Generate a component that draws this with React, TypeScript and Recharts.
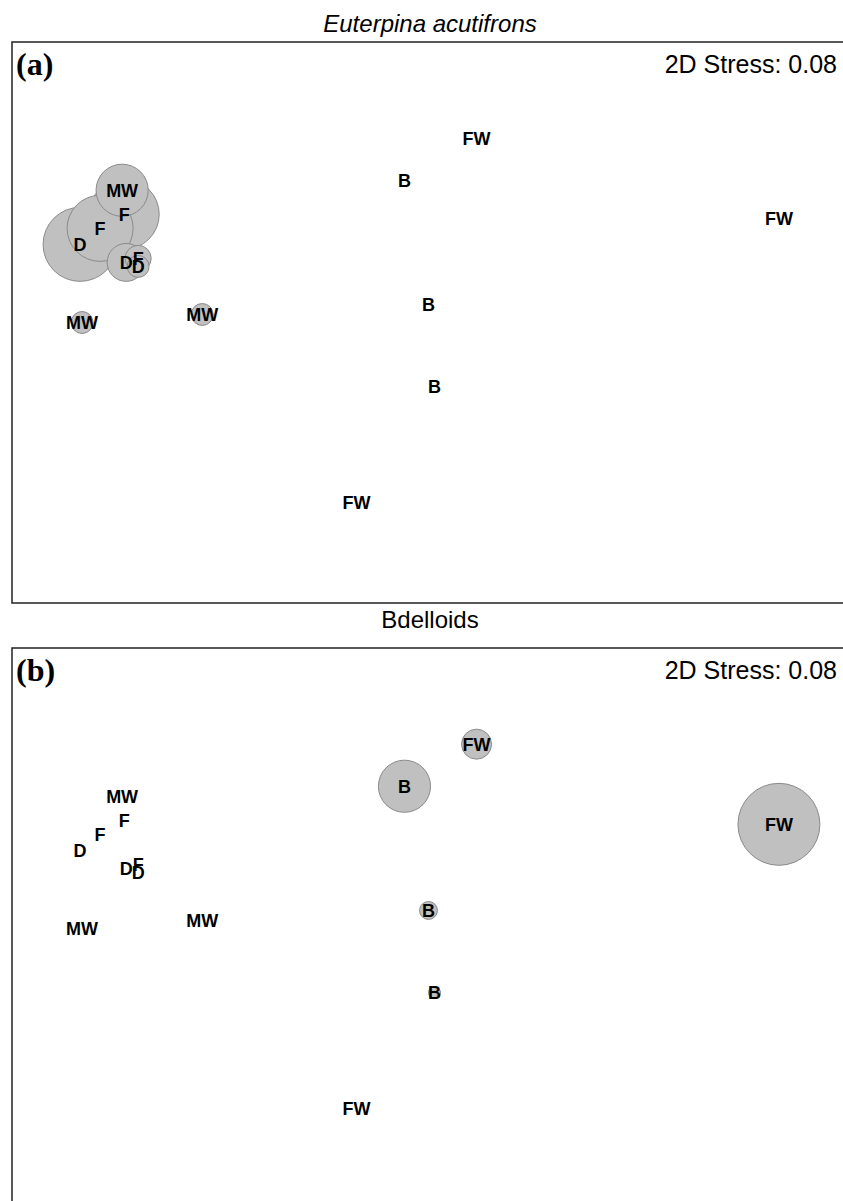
import {
  Customized,
  ReferenceArea,
  Scatter,
  ScatterChart,
  XAxis,
  YAxis,
  ZAxis,
} from "recharts";

// nMDS configuration shared by both panels (same samples, same ordination)
const sampleLabels = ["FW", "B", "FW", "B", "B", "FW", "MW", "MW", "MW", "F", "F", "D", "D", "F", "D"];
const mdsX = [0.32, -0.04, 1.83, 0.08, 0.11, -0.28, -1.65, -1.05, -1.45, -1.44, -1.56, -1.66, -1.43, -1.37, -1.37];
const mdsY = [0.92, 0.71, 0.52, 0.09, -0.32, -0.9, 0.0, 0.04, 0.66, 0.54, 0.47, 0.39, 0.3, 0.32, 0.28];

// bubble values (area proportional to abundance)
const euterpinaAbundance = [0, 0, 0, 0, 0, 0, 1.2, 1.2, 6.8, 12.3, 10.9, 13.7, 3.6, 1.7, 1.2];
const bdelloidAbundance = [2.25, 6.8, 16.8, 0.8, 0.36, 0, 0, 0, 0, 0, 0, 0, 0, 0, 0];

const stressText = "2D Stress: 0.08";

const X_DOMAIN: [number, number] = [-2, 2.2];
const Y_DOMAIN: [number, number] = [-1.4, 1.4];
const Z_MAX = 20;
const BUBBLE_AREA_MAX = Math.PI * 100 * Z_MAX;

const SANS = "'Liberation Sans', Arial, Helvetica, sans-serif";
const SERIF = "'Liberation Serif', 'Times New Roman', serif";

type Point = { label: string; x: number; y: number; z: number };

function buildPoints(abundance: number[]): Point[] {
  return sampleLabels.map((label, i) => ({
    label,
    x: mdsX[i],
    y: mdsY[i],
    z: abundance[i],
  }));
}

function Bubble(props: any) {
  const { cx, cy, size } = props;
  const r = Math.sqrt(Math.max(size ?? 0, 0) / Math.PI);
  if (!r || cx == null || cy == null) return <g />;
  return <circle cx={cx} cy={cy} r={r} fill="#c0c0c0" stroke="#8a8a8a" strokeWidth={1} />;
}

function SampleLabel(props: any) {
  const { cx, cy, payload } = props;
  if (cx == null || cy == null) return <g />;
  return (
    <text
      x={cx}
      y={cy}
      dy="0.36em"
      textAnchor="middle"
      fontFamily={SANS}
      fontWeight="bold"
      fontSize={18}
      fill="#000"
    >
      {payload.label}
    </text>
  );
}

type PanelProps = {
  title: string;
  italic?: boolean;
  tag: string;
  abundance: number[];
  height: number;
  top: number;
  titleBaseline: number;
};

function Panel({ title, italic, tag, abundance, height, top, titleBaseline }: PanelProps) {
  const points = buildPoints(abundance);
  const bubbles = points.filter((p) => p.z > 0).sort((a, b) => b.z - a.z);

  return (
    <ScatterChart
      width={875}
      height={height}
      margin={{ top, right: 22, bottom: Math.max(height - top - 561, 0), left: 12 }}
    >
      <XAxis type="number" dataKey="x" domain={X_DOMAIN} hide allowDataOverflow />
      <YAxis type="number" dataKey="y" domain={Y_DOMAIN} hide allowDataOverflow />
      <ZAxis type="number" dataKey="z" domain={[0, Z_MAX]} range={[0, BUBBLE_AREA_MAX]} />
      <ReferenceArea
        x1={X_DOMAIN[0]}
        x2={X_DOMAIN[1]}
        y1={Y_DOMAIN[0]}
        y2={Y_DOMAIN[1]}
        fill="none"
        fillOpacity={0}
        stroke="#222"
        strokeWidth={1.5}
      />
      <Scatter data={bubbles} shape={<Bubble />} isAnimationActive={false} legendType="none" />
      <Scatter data={points} shape={<SampleLabel />} isAnimationActive={false} legendType="none" />
      <Customized
        component={() => (
          <g>
            <text
              x={430}
              y={titleBaseline}
              textAnchor="middle"
              fontFamily={SANS}
              fontStyle={italic ? "italic" : "normal"}
              fontSize={24}
              fill="#000"
            >
              {title}
            </text>
            <text x={16} y={top + 33} fontFamily={SERIF} fontWeight="bold" fontSize={32} fill="#000">
              {tag}
            </text>
            <text x={837} y={top + 31} textAnchor="end" fontFamily={SANS} fontSize={25} fill="#000">
              {stressText}
            </text>
          </g>
        )}
      />
    </ScatterChart>
  );
}

export default function App() {
  return (
    <div style={{ width: 843, height: 1201, overflow: "hidden", background: "#fff" }}>
      <style>{"html,body{margin:0;padding:0;overflow:hidden;}"}</style>
      <Panel
        title="Euterpina acutifrons"
        italic
        tag="(a)"
        abundance={euterpinaAbundance}
        height={604}
        top={42}
        titleBaseline={32}
      />
      <Panel
        title="Bdelloids"
        tag="(b)"
        abundance={bdelloidAbundance}
        height={610}
        top={44}
        titleBaseline={24}
      />
    </div>
  );
}
